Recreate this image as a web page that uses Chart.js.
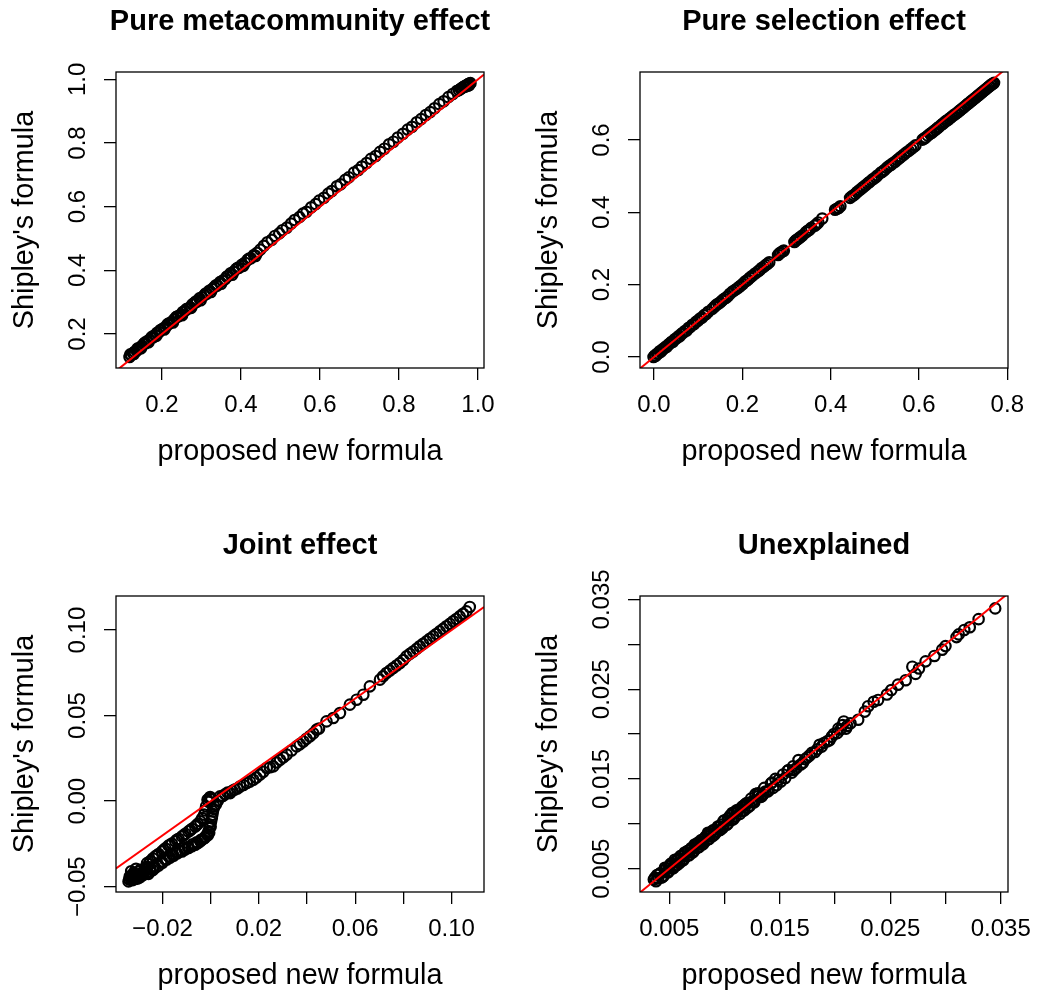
<!DOCTYPE html>
<html>
<head>
<meta charset="utf-8">
<title>Shipley's formula vs proposed new formula</title>
<script src="https://cdn.jsdelivr.net/npm/chart.js@4/dist/chart.umd.min.js"></script>
<style>
  html, body { margin: 0; background: #fff; overflow: hidden; }
  canvas.panel { position: absolute; }
</style>
</head>
<body>
<canvas id="meta" class="panel" width="600" height="469" style="left:0;top:0"></canvas>
<canvas id="sel" class="panel" width="600" height="469" style="left:524px;top:0"></canvas>
<canvas id="joint" class="panel" width="600" height="469" style="left:0;top:524px"></canvas>
<canvas id="unex" class="panel" width="600" height="469" style="left:524px;top:524px"></canvas>
<script>
// ---- data: x = proposed new formula, y = Shipley's formula ----

// pure metacommunity effect
const metaX = [0.118, 0.122, 0.127, 0.131, 0.136, 0.140, 0.145, 0.150, 0.154, 0.159,
  0.163, 0.168, 0.173, 0.178, 0.183, 0.188, 0.193, 0.198, 0.204, 0.209,
  0.214, 0.219, 0.225, 0.231, 0.236, 0.242, 0.248, 0.253, 0.259, 0.265,
  0.271, 0.277, 0.283, 0.289, 0.295, 0.301, 0.308, 0.314, 0.320, 0.327,
  0.333, 0.340, 0.347, 0.353, 0.360, 0.367, 0.374, 0.381, 0.388, 0.395,
  0.402, 0.410, 0.417, 0.425, 0.433, 0.441, 0.449,
  0.458, 0.467, 0.478, 0.486, 0.497, 0.505, 0.516, 0.527, 0.536, 0.548,
  0.557, 0.566, 0.578, 0.589, 0.598, 0.610, 0.621, 0.630, 0.643, 0.652,
  0.664, 0.673, 0.686, 0.697, 0.706, 0.718, 0.729, 0.741, 0.752, 0.763,
  0.775, 0.786, 0.797, 0.810, 0.822, 0.833, 0.845, 0.856, 0.868, 0.879,
  0.890, 0.902, 0.913, 0.925, 0.936, 0.946,
  0.952, 0.956, 0.960, 0.963, 0.966, 0.969, 0.971, 0.973, 0.975, 0.977, 0.979, 0.981, 0.968, 0.974, 0.978,
  0.120, 0.129, 0.138, 0.147, 0.157, 0.166, 0.176, 0.186, 0.196, 0.206,
  0.217, 0.228, 0.239, 0.251, 0.262, 0.274, 0.286, 0.298, 0.311, 0.324,
  0.337, 0.350, 0.364, 0.378, 0.392, 0.406, 0.421, 0.437];
const metaY = [0.128, 0.133, 0.139, 0.144, 0.147, 0.154, 0.157, 0.163, 0.169, 0.171,
  0.177, 0.181, 0.188, 0.190, 0.197, 0.204, 0.206, 0.213, 0.218, 0.221,
  0.230, 0.233, 0.238, 0.246, 0.253, 0.256, 0.261, 0.269, 0.274, 0.279,
  0.283, 0.293, 0.298, 0.302, 0.312, 0.315, 0.323, 0.327, 0.336, 0.341,
  0.348, 0.352, 0.363, 0.367, 0.373, 0.382, 0.391, 0.395, 0.404, 0.408,
  0.417, 0.424, 0.433, 0.438, 0.448, 0.455, 0.465,
  0.477, 0.488, 0.496, 0.508, 0.516, 0.526, 0.534, 0.547, 0.558, 0.567,
  0.578, 0.584, 0.598, 0.608, 0.619, 0.628, 0.641, 0.649, 0.664, 0.670,
  0.684, 0.692, 0.707, 0.715, 0.726, 0.737, 0.750, 0.759, 0.772, 0.782,
  0.796, 0.804, 0.817, 0.829, 0.842, 0.851, 0.865, 0.875, 0.888, 0.897,
  0.909, 0.922, 0.931, 0.944, 0.954, 0.963,
  0.966, 0.970, 0.973, 0.976, 0.978, 0.980, 0.981, 0.983, 0.984, 0.986, 0.987, 0.988, 0.977, 0.980, 0.982,
  0.136, 0.137, 0.154, 0.155, 0.173, 0.174, 0.192, 0.194, 0.212, 0.214,
  0.233, 0.236, 0.255, 0.259, 0.278, 0.282, 0.302, 0.306, 0.327, 0.332,
  0.353, 0.358, 0.380, 0.386, 0.408, 0.414, 0.437, 0.445];

// pure selection effect
const selX = [-0.001, 0.002, 0.004, 0.007, 0.010, 0.013, 0.016, 0.019, 0.022, 0.026,
  0.029, 0.033, 0.036, 0.040, 0.043, 0.047, 0.051, 0.055, 0.058, 0.062,
  0.066, 0.070, 0.074, 0.078, 0.082, 0.087, 0.091, 0.095, 0.100, 0.104,
  0.109, 0.113, 0.118, 0.123,
  0.132, 0.141, 0.150, 0.158, 0.167, 0.178, 0.188, 0.196, 0.205, 0.213,
  0.222, 0.236, 0.244, 0.253, 0.261, 0.281, 0.287, 0.294, 0.318, 0.324,
  0.331, 0.344, 0.352, 0.368, 0.381, 0.410, 0.418, 0.444, 0.452, 0.460,
  0.470, 0.479, 0.488, 0.497, 0.506, 0.513, 0.531, 0.540, 0.551, 0.560,
  0.571, 0.582, 0.592, 0.608, 0.615, 0.625, 0.633, 0.641, 0.650, 0.658,
  0.666, 0.674, 0.682, 0.690, 0.697, 0.704, 0.711, 0.718, 0.724, 0.731,
  0.737, 0.743, 0.749, 0.755, 0.760, 0.765, 0.770,
  0.137, 0.146, 0.154, 0.163, 0.172, 0.183, 0.192, 0.201, 0.209, 0.217,
  0.229, 0.240, 0.249, 0.257, 0.284, 0.291, 0.321, 0.328, 0.336, 0.348,
  0.356, 0.364, 0.372, 0.414, 0.422, 0.448, 0.456, 0.465, 0.474, 0.484,
  0.493, 0.502, 0.517, 0.522, 0.527, 0.536, 0.546, 0.556, 0.566, 0.577,
  0.587, 0.612, 0.620, 0.629, 0.637, 0.645, 0.654, 0.662, 0.670, 0.678,
  0.686, 0.694, 0.701, 0.708, 0.714, 0.721, 0.728, 0.734, 0.740, 0.746,
  0.752, 0.758, 0.763, 0.768];
const selY = [0.000, 0.004, 0.003, 0.009, 0.010, 0.016, 0.015, 0.021, 0.023, 0.028,
  0.028, 0.035, 0.037, 0.042, 0.042, 0.049, 0.052, 0.057, 0.057, 0.064,
  0.067, 0.072, 0.073, 0.080, 0.083, 0.089, 0.091, 0.097, 0.101, 0.106,
  0.109, 0.115, 0.119, 0.125,
  0.133, 0.144, 0.151, 0.160, 0.168, 0.181, 0.189, 0.197, 0.207, 0.214,
  0.224, 0.237, 0.246, 0.254, 0.262, 0.282, 0.289, 0.294, 0.318, 0.325,
  0.331, 0.345, 0.352, 0.367, 0.383, 0.407, 0.412, 0.440, 0.447, 0.456,
  0.466, 0.475, 0.484, 0.493, 0.502, 0.509, 0.527, 0.535, 0.545, 0.554,
  0.565, 0.575, 0.585, 0.601, 0.607, 0.617, 0.624, 0.632, 0.641, 0.649,
  0.656, 0.664, 0.671, 0.679, 0.686, 0.693, 0.700, 0.707, 0.713, 0.720,
  0.726, 0.732, 0.738, 0.744, 0.749, 0.754, 0.758,
  0.139, 0.148, 0.156, 0.164, 0.175, 0.185, 0.193, 0.202, 0.211, 0.219,
  0.231, 0.241, 0.250, 0.258, 0.286, 0.292, 0.322, 0.328, 0.336, 0.349,
  0.357, 0.363, 0.372, 0.410, 0.417, 0.444, 0.451, 0.461, 0.470, 0.480,
  0.489, 0.497, 0.512, 0.517, 0.523, 0.531, 0.540, 0.550, 0.560, 0.570,
  0.580, 0.604, 0.612, 0.620, 0.628, 0.636, 0.645, 0.653, 0.660, 0.668,
  0.675, 0.683, 0.690, 0.697, 0.703, 0.710, 0.717, 0.723, 0.729, 0.735,
  0.741, 0.747, 0.752, 0.756];

// joint effect
const jointX = [-0.0341, -0.0334, -0.0327, -0.0320, -0.0318, -0.0313, -0.0306, -0.0300, -0.0296, -0.0292,
  -0.0288, -0.0283, -0.0279, -0.0272, -0.0268, -0.0330, -0.0325, -0.0310,
  -0.0338, -0.0336, -0.0329, -0.0322, -0.0315, -0.0304, -0.0297, -0.0290, -0.0285, -0.0276, -0.0270, -0.0262,
  -0.0264, -0.0250, -0.0240, -0.0230, -0.0216, -0.0202, -0.0188, -0.0175, -0.0161, -0.0147,
  -0.0133, -0.0119, -0.0105, -0.0092, -0.0078, -0.0064, -0.0053, -0.0043, -0.0035, -0.0027,
  -0.0023, -0.0019, -0.0013, -0.0009, -0.0002, 0.0003, -0.0005,
  -0.0257, -0.0223, -0.0195, -0.0168, -0.0140, -0.0112, -0.0085, -0.0058,
  -0.0258, -0.0251, -0.0240, -0.0230, -0.0216, -0.0200, -0.0182, -0.0168, -0.0154, -0.0138,
  -0.0119, -0.0106, -0.0092, -0.0078, -0.0064, -0.0053, -0.0043, -0.0032, -0.0023, -0.0015,
  -0.0009, -0.0005, -0.0002, 0.0002, 0.0005, 0.0007, 0.0009, 0.0012, 0.0015, 0.0022, 0.0030,
  -0.0235, -0.0205, -0.0175, -0.0145, -0.0110, -0.0075, -0.0040, -0.0012,
  -0.0250, -0.0190, -0.0160, -0.0128, -0.0095, -0.0058, -0.0025, -0.0006, 0.0000,
  0.0039, 0.0060, 0.0081, 0.0100, 0.0122, 0.0150, 0.0177, 0.0205, 0.0233, 0.0260,
  0.0288, 0.0316, 0.0357, 0.0385, 0.0412, 0.0440, 0.0450, 0.0481, 0.0509, 0.0537,
  0.0578, 0.0606, 0.0634, 0.0661, 0.0703, 0.0730, 0.0758, 0.0786, 0.0800, 0.0813,
  0.0841, 0.0868, 0.0896, 0.0924, 0.0951, 0.0979, 0.1007, 0.1034, 0.1062, 0.1076,
  0.0050, 0.0070, 0.0090, 0.0111, 0.0136, 0.0163, 0.0190, 0.0219, 0.0246, 0.0274,
  0.0302, 0.0336, 0.0370, 0.0398, 0.0426,
  0.0716, 0.0744, 0.0772, 0.0827, 0.0855, 0.0882, 0.0910, 0.0937, 0.0965, 0.0993, 0.1020, 0.1048];
const jointY = [-0.0469, -0.0449, -0.0462, -0.0420, -0.0445, -0.0455, -0.0440, -0.0428, -0.0447, -0.0401,
  -0.0432, -0.0418, -0.0430, -0.0392, -0.0421, -0.0410, -0.0432, -0.0395,
  -0.0458, -0.0440, -0.0450, -0.0458, -0.0433, -0.0452, -0.0412, -0.0440, -0.0425, -0.0410, -0.0400, -0.0385,
  -0.0362, -0.0350, -0.0335, -0.0323, -0.0309, -0.0294, -0.0276, -0.0260, -0.0248, -0.0235,
  -0.0220, -0.0206, -0.0191, -0.0177, -0.0162, -0.0148, -0.0133, -0.0118, -0.0099, -0.0079,
  -0.0055, -0.0031, 0.0008, -0.0004, 0.0024, 0.0012, 0.0017,
  -0.0368, -0.0318, -0.0285, -0.0256, -0.0226, -0.0200, -0.0170, -0.0140,
  -0.0425, -0.0411, -0.0402, -0.0390, -0.0377, -0.0360, -0.0342, -0.0330, -0.0319, -0.0305,
  -0.0294, -0.0283, -0.0274, -0.0264, -0.0255, -0.0245, -0.0235, -0.0222, -0.0210, -0.0194,
  -0.0177, -0.0158, -0.0138, -0.0118, -0.0099, -0.0080, -0.0060, -0.0045, -0.0031, -0.0018, 0.0002,
  -0.0380, -0.0352, -0.0322, -0.0298, -0.0275, -0.0252, -0.0226, -0.0200,
  -0.0395, -0.0340, -0.0312, -0.0290, -0.0268, -0.0240, -0.0215, -0.0185, -0.0150,
  0.0028, 0.0040, 0.0047, 0.0068, 0.0086, 0.0106, 0.0125, 0.0155, 0.0194, 0.0203,
  0.0242, 0.0272, 0.0320, 0.0349, 0.0379, 0.0418, 0.0425, 0.0466, 0.0486, 0.0515,
  0.0564, 0.0593, 0.0622, 0.0671, 0.0710, 0.0749, 0.0778, 0.0807, 0.0825, 0.0846,
  0.0875, 0.0905, 0.0934, 0.0963, 0.0992, 0.1022, 0.1051, 0.1080, 0.1109, 0.1135,
  0.0030, 0.0050, 0.0060, 0.0074, 0.0094, 0.0114, 0.0138, 0.0172, 0.0198, 0.0226,
  0.0256, 0.0296, 0.0333, 0.0365, 0.0396,
  0.0730, 0.0763, 0.0793, 0.0861, 0.0890, 0.0920, 0.0949, 0.0977, 0.1007, 0.1036, 0.1065, 0.1095];

// unexplained
const unexX = [0.0345, 0.0330, 0.0322, 0.0317, 0.0312, 0.0310, 0.0300, 0.0297, 0.0290, 0.0282,
  0.0276, 0.0270, 0.0273, 0.0264, 0.0257, 0.0251, 0.0247, 0.0239, 0.0235, 0.0230,
  0.0227, 0.0221, 0.0214, 0.0211, 0.0208, 0.0205, 0.0202, 0.0197, 0.0193, 0.0188,
  0.0184, 0.0179, 0.0175, 0.0171, 0.0167, 0.0162, 0.0158, 0.0161, 0.0155, 0.0149,
  0.0144, 0.0143, 0.0137, 0.0131, 0.0128, 0.0125, 0.0120, 0.0116, 0.0113, 0.0107,
  0.0104, 0.0099, 0.0095, 0.0090, 0.0085, 0.0082, 0.0078, 0.0073, 0.0069, 0.0064,
  0.0060, 0.0055, 0.0051, 0.0046, 0.0042, 0.0037, 0.0036,
  0.0044, 0.0048, 0.0053, 0.0057, 0.0062, 0.0066, 0.0071, 0.0075, 0.0080, 0.0084,
  0.0089, 0.0093, 0.0098, 0.0102, 0.0106, 0.0110, 0.0118, 0.0123, 0.0134, 0.0140,
  0.0147, 0.0153, 0.0165, 0.0173, 0.0182, 0.0190, 0.0199, 0.0207,
  0.0039, 0.0046, 0.0052, 0.0058, 0.0067, 0.0076, 0.0087, 0.0097, 0.0109, 0.0119,
  0.0038, 0.0041, 0.0043, 0.0047, 0.0049, 0.0051, 0.0054, 0.0056, 0.0059, 0.0061,
  0.0063, 0.0065, 0.0068, 0.0070, 0.0072, 0.0074, 0.0077, 0.0079, 0.0081, 0.0083,
  0.0086, 0.0088, 0.0091, 0.0094, 0.0096, 0.0100, 0.0103, 0.0105, 0.0108, 0.0111,
  0.0114, 0.0117, 0.0121, 0.0124, 0.0127, 0.0130, 0.0133, 0.0136, 0.0139, 0.0142,
  0.0146, 0.0151, 0.0157, 0.0163, 0.0169, 0.0177, 0.0186, 0.0195, 0.0203, 0.0210,
  0.0040, 0.0045, 0.0050, 0.0055, 0.0058, 0.0063, 0.0067, 0.0072, 0.0076, 0.0081,
  0.0085, 0.0090, 0.0094, 0.0099, 0.0103, 0.0108, 0.0112, 0.0116, 0.0121, 0.0126,
  0.0131, 0.0135];
const unexY = [0.0340, 0.0328, 0.0319, 0.0316, 0.0311, 0.0308, 0.0298, 0.0294, 0.0287, 0.0281,
  0.0273, 0.0275, 0.0267, 0.0260, 0.0255, 0.0249, 0.0244, 0.0238, 0.0236, 0.0231,
  0.0225, 0.0216, 0.0212, 0.0209, 0.0214, 0.0205, 0.0201, 0.0197, 0.0192, 0.0186,
  0.0183, 0.0179, 0.0174, 0.0168, 0.0171, 0.0164, 0.0160, 0.0157, 0.0151, 0.0149,
  0.0140, 0.0146, 0.0136, 0.0131, 0.0133, 0.0125, 0.0123, 0.0119, 0.0116, 0.0112,
  0.0106, 0.0103, 0.0097, 0.0093, 0.0090, 0.0084, 0.0080, 0.0077, 0.0071, 0.0068,
  0.0064, 0.0060, 0.0055, 0.0051, 0.0045, 0.0040, 0.0038,
  0.0041, 0.0046, 0.0050, 0.0054, 0.0059, 0.0064, 0.0068, 0.0073, 0.0077, 0.0082,
  0.0086, 0.0091, 0.0095, 0.0099, 0.0104, 0.0108, 0.0115, 0.0120, 0.0131, 0.0137,
  0.0143, 0.0155, 0.0162, 0.0172, 0.0180, 0.0190, 0.0200, 0.0210,
  0.0043, 0.0048, 0.0056, 0.0061, 0.0070, 0.0078, 0.0089, 0.0099, 0.0113, 0.0122,
  0.0036, 0.0044, 0.0040, 0.0050, 0.0046, 0.0054, 0.0051, 0.0059, 0.0056, 0.0064,
  0.0060, 0.0068, 0.0065, 0.0073, 0.0069, 0.0077, 0.0074, 0.0082, 0.0078, 0.0086,
  0.0083, 0.0091, 0.0088, 0.0097, 0.0093, 0.0104, 0.0100, 0.0109, 0.0105, 0.0115,
  0.0111, 0.0120, 0.0118, 0.0128, 0.0124, 0.0134, 0.0130, 0.0140, 0.0136, 0.0145,
  0.0150, 0.0147, 0.0159, 0.0160, 0.0166, 0.0176, 0.0188, 0.0193, 0.0206, 0.0206,
  0.0039, 0.0042, 0.0052, 0.0053, 0.0060, 0.0061, 0.0070, 0.0070, 0.0079, 0.0080,
  0.0088, 0.0088, 0.0096, 0.0097, 0.0106, 0.0106, 0.0114, 0.0114, 0.0123, 0.0124,
  0.0133, 0.0133];

// axis limits and ticks
const metaXLim = [0.0838, 1.0152], metaYLim = [0.0932, 1.023];
const selXLim = [-0.0317, 0.8016], selYLim = [-0.0304, 0.788];
const jointXLim = [-0.0393, 0.1135], jointYLim = [-0.0531, 0.1199];
const unexXLim = [0.00235, 0.03566], unexYLim = [0.0024, 0.03538];

const metaTicks = [0.2, 0.4, 0.6, 0.8, 1.0];
const metaTickLabels = ['0.2', '0.4', '0.6', '0.8', '1.0'];
const selXTicks = [0, 0.2, 0.4, 0.6, 0.8];
const selXTickLabels = ['0.0', '0.2', '0.4', '0.6', '0.8'];
const selYTicks = [0, 0.2, 0.4, 0.6];
const selYTickLabels = ['0.0', '0.2', '0.4', '0.6'];
const jointXTicks = [-0.02, 0, 0.02, 0.04, 0.06, 0.08, 0.10];
const jointXTickLabels = ['\u22120.02', '', '0.02', '', '0.06', '', '0.10'];
const jointYTicks = [-0.05, 0, 0.05, 0.10];
const jointYTickLabels = ['\u22120.05', '0.00', '0.05', '0.10'];
const unexTicks = [0.005, 0.010, 0.015, 0.020, 0.025, 0.030, 0.035];
const unexTickLabels = ['0.005', '', '0.015', '', '0.025', '', '0.035'];

// 1:1 reference line
const abline = { intercept: 0, slope: 1 };

const FONT = '"Liberation Sans", Arial, Helvetica, sans-serif';
Chart.defaults.font.family = FONT;
Chart.defaults.color = '#000';

const TICK_SIZE = 24, LAB_SIZE = 28.8, MAIN_SIZE = 29, TICK_LEN = 12;
const BOX_TOP = 72, BOX_BOTTOM = 368, MARGIN = 116;

// frame around the plotting region
const plotBox = {
  id: 'plotBox',
  afterDraw(chart) {
    const { ctx, chartArea: a } = chart;
    ctx.save();
    ctx.strokeStyle = '#000';
    ctx.lineWidth = 1.3;
    ctx.strokeRect(a.left, a.top, a.right - a.left, a.bottom - a.top);
    ctx.restore();
  }
};

const measureCtx = document.createElement('canvas').getContext('2d');
function textWidth(s) {
  measureCtx.font = `${TICK_SIZE}px ${FONT}`;
  return measureCtx.measureText(s).width;
}

function drawPanel(id, p) {
  const canvas = document.getElementById(id);
  const H = canvas.height;
  const widest = Math.max(...p.yLabels.map(textWidth));
  const lineEnds = p.xlim.map(x => ({ x, y: abline.intercept + abline.slope * x }));

  const axisCommon = {
    type: 'linear',
    grid: { drawOnChartArea: false, drawTicks: true, tickLength: TICK_LEN, color: '#000', lineWidth: 1.3 },
    border: { display: false }
  };

  new Chart(canvas, {
    type: 'scatter',
    data: {
      datasets: [
        {
          type: 'line', data: lineEnds, borderColor: '#ff0000', borderWidth: 2,
          pointRadius: 0, tension: 0, clip: 0, order: 0
        },
        {
          data: p.xs.map((x, i) => ({ x, y: p.ys[i] })),
          pointStyle: 'circle', pointRadius: 5.2, pointBorderWidth: 2.2,
          pointBorderColor: '#000', pointBackgroundColor: 'rgba(0,0,0,0)',
          clip: false, order: 1
        }
      ]
    },
    options: {
      responsive: false,
      animation: false,
      events: [],
      layout: { padding: 0 },
      plugins: {
        legend: { display: false },
        tooltip: { enabled: false },
        title: {
          display: true, text: p.title, color: '#000',
          font: { size: MAIN_SIZE, weight: 'bold', lineHeight: 1.2 },
          padding: { top: 5, bottom: BOX_TOP - 5 - MAIN_SIZE * 1.2 }
        }
      },
      scales: {
        x: {
          ...axisCommon,
          position: 'bottom',
          min: p.xlim[0], max: p.xlim[1],
          afterBuildTicks: s => { s.ticks = p.xTicks.map(v => ({ value: v })); },
          afterFit: s => { s.height = H - BOX_BOTTOM; },
          ticks: {
            autoSkip: false, minRotation: 0, maxRotation: 0, padding: 13, color: '#000',
            font: { size: TICK_SIZE, lineHeight: 1 },
            callback: (v, i) => p.xLabels[i]
          },
          title: {
            display: true, text: 'proposed new formula', color: '#000',
            font: { size: LAB_SIZE, lineHeight: 1 }, padding: { top: 0, bottom: 3 }
          }
        },
        y: {
          ...axisCommon,
          position: 'left',
          min: p.ylim[0], max: p.ylim[1],
          afterBuildTicks: s => { s.ticks = p.yTicks.map(v => ({ value: v })); },
          afterFit: s => { s.width = MARGIN; },
          ticks: {
            autoSkip: false, minRotation: 90, maxRotation: 90, crossAlign: 'center', color: '#000',
            padding: 38 - TICK_LEN - widest / 2,
            font: { size: TICK_SIZE, lineHeight: 1 },
            callback: (v, i) => p.yLabels[i]
          },
          title: {
            display: true, text: "Shipley's formula", color: '#000',
            font: { size: LAB_SIZE, lineHeight: 1 }, padding: { top: 11, bottom: 0 }
          }
        },
        // empty right margin, same width as the left one, so the heading sits over the box centre
        margin: {
          type: 'linear', position: 'right', display: true,
          grid: { display: false }, border: { display: false }, ticks: { display: false },
          afterFit: s => { s.width = MARGIN; }
        }
      }
    },
    plugins: [plotBox]
  });
}

drawPanel('meta', {
  title: 'Pure metacommunity effect', xs: metaX, ys: metaY,
  xlim: metaXLim, ylim: metaYLim,
  xTicks: metaTicks, xLabels: metaTickLabels, yTicks: metaTicks, yLabels: metaTickLabels
});
drawPanel('sel', {
  title: 'Pure selection effect', xs: selX, ys: selY,
  xlim: selXLim, ylim: selYLim,
  xTicks: selXTicks, xLabels: selXTickLabels, yTicks: selYTicks, yLabels: selYTickLabels
});
drawPanel('joint', {
  title: 'Joint effect', xs: jointX, ys: jointY,
  xlim: jointXLim, ylim: jointYLim,
  xTicks: jointXTicks, xLabels: jointXTickLabels, yTicks: jointYTicks, yLabels: jointYTickLabels
});
drawPanel('unex', {
  title: 'Unexplained', xs: unexX, ys: unexY,
  xlim: unexXLim, ylim: unexYLim,
  xTicks: unexTicks, xLabels: unexTickLabels, yTicks: unexTicks, yLabels: unexTickLabels
});
</script>
</body>
</html>
